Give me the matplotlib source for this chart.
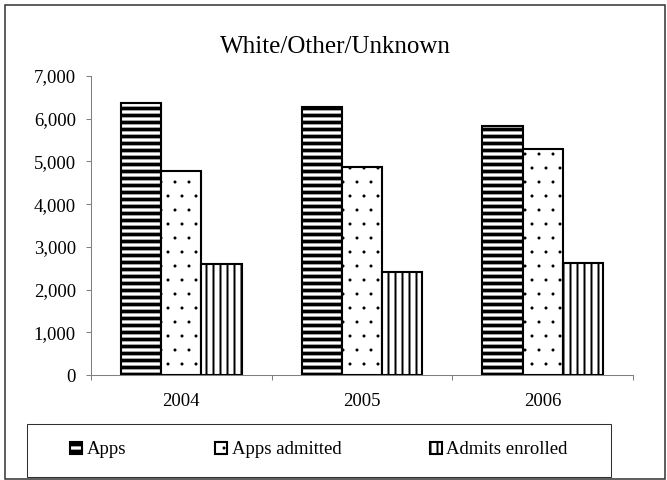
import matplotlib
matplotlib.use('Agg')
import matplotlib.pyplot as plt
from matplotlib.patches import Rectangle
from matplotlib.ticker import FuncFormatter, FixedLocator
import numpy as np

years = ['2004', '2005', '2006']
apps = [6370, 6270, 5830]
admitted = [4780, 4880, 5280]
enrolled = [2600, 2410, 2630]
series_names = ['Apps', 'Apps admitted', 'Admits enrolled']

W, H, DPI = 667, 480, 84
plt.rcParams['font.family'] = ['Liberation Serif', 'DejaVu Serif']
fs = 16.1

fig = plt.figure(figsize=(W / DPI, H / DPI), dpi=DPI)
ax = fig.add_axes([91 / W, 1 - 375 / H, (633 - 91) / W, (375 - 76) / H])

x = np.arange(len(years))
bw = 2 / 9
styles = [('--', 3.2), ('.', 0.15), ('||', 1.7)]
bars = []
for i, (vals, (hatch, hlw)) in enumerate(zip([apps, admitted, enrolled], styles)):
    with plt.rc_context({'hatch.linewidth': hlw}):
        b = ax.bar(x + (i - 1) * bw, vals, bw, color='white', edgecolor='black',
                   linewidth=1.8, hatch=hatch, label=series_names[i])
    for p in b:
        if hasattr(p, 'set_hatch_linewidth'):
            p.set_hatch_linewidth(hlw)
    bars.append(b)

ax.set_xlim(-0.5, 2.5)
ax.set_ylim(0, 7000)
ax.set_yticks(range(0, 7001, 1000))
ax.yaxis.set_major_formatter(FuncFormatter(lambda v, p: f'{int(v):,}'))
ax.xaxis.set_major_locator(FixedLocator([-0.5, 0.5, 1.5, 2.5]))
ax.xaxis.set_minor_locator(FixedLocator(x))
ax.set_xticklabels([], minor=False)
ax.set_xticklabels(years, minor=True)
ax.tick_params(axis='x', which='major', length=4.3, color='#808080', width=0.9)
ax.tick_params(axis='x', which='minor', length=0, pad=15, labelsize=fs)
ax.tick_params(axis='y', length=4.3, color='#808080', width=0.9, pad=8.6, labelsize=fs)
for s in ['top', 'right']:
    ax.spines[s].set_visible(False)
for s in ['left', 'bottom']:
    ax.spines[s].set_color('#808080')
    ax.spines[s].set_linewidth(0.9)

fig.text(335 / W, 1 - 53 / H, 'White/Other/Unknown', ha='center', va='baseline',
         fontsize=21.4)

leg = fig.legend(handles=bars, labels=series_names, ncol=3, frameon=False,
                 loc='center', bbox_to_anchor=(319 / W, 1 - 450 / H),
                 fontsize=fs, handlelength=0.64, handleheight=0.64,
                 handletextpad=0.25, columnspacing=4.7)
for p, (hatch, hlw) in zip(leg.get_patches(), styles):
    if hasattr(p, 'set_hatch_linewidth'):
        p.set_hatch_linewidth(hlw)

# legend frame and chart border
fig.add_artist(Rectangle((27 / W, 1 - 477 / H), (611 - 27) / W, (477 - 424) / H,
                         transform=fig.transFigure, fill=False, edgecolor='#303030',
                         linewidth=0.9))
fig.add_artist(Rectangle((4.5 / W, 1 - 479 / H), (665 - 4.5) / W, (479 - 5) / H,
                         transform=fig.transFigure, fill=False, edgecolor='#303030',
                         linewidth=1.3))

fig.savefig('out.png', dpi=DPI)
